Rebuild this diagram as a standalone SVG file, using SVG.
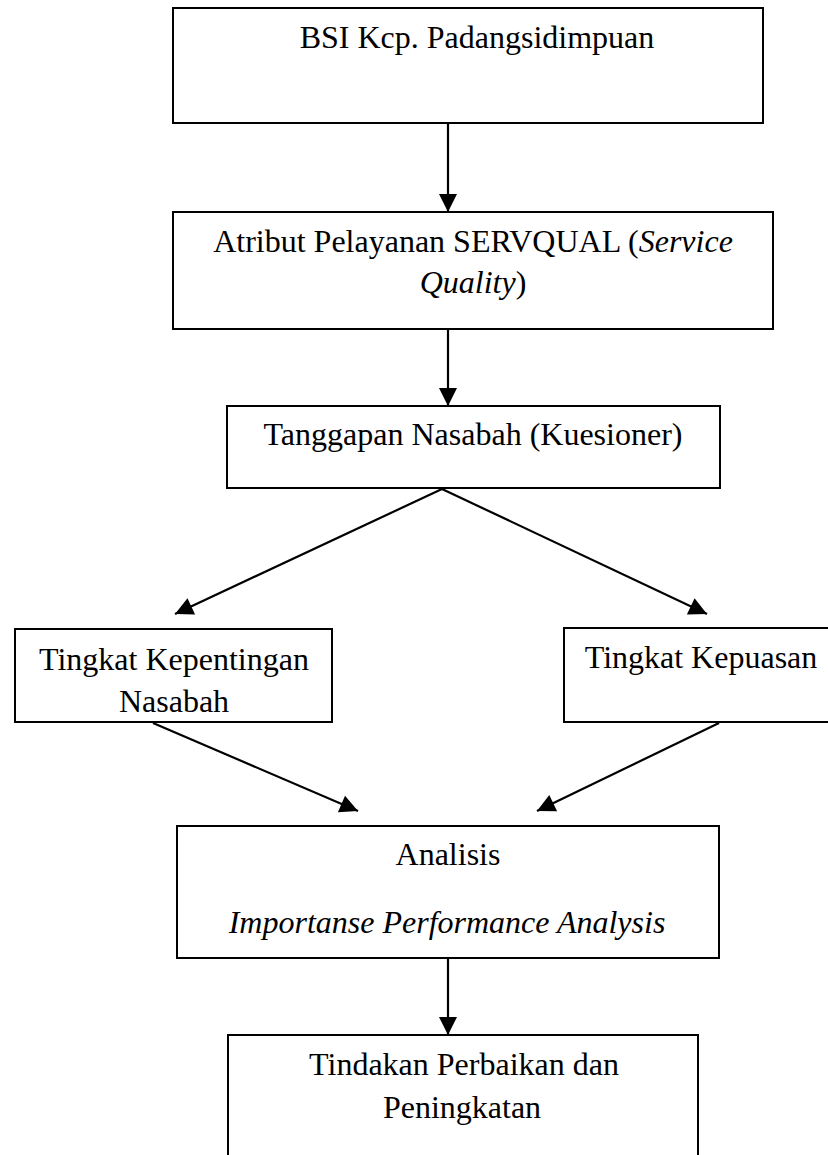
<svg xmlns="http://www.w3.org/2000/svg" width="828" height="1155" viewBox="0 0 828 1155">
<style>
.box{fill:#fff;stroke:#000;stroke-width:2}
.t{font-family:'Liberation Serif','Times New Roman',serif;font-size:32px;fill:#000;text-anchor:middle}
.i{font-style:italic}
.c{fill:none;stroke:#000;stroke-width:2.2;marker-end:url(#ah)}
</style>
<defs>
<marker id="ah" markerUnits="userSpaceOnUse" markerWidth="22" markerHeight="22" viewBox="0 0 22 22" refX="19" refY="11" orient="auto">
<path d="M1,2 L19,11 L1,20 Z" fill="#000"/>
</marker>
</defs>
<rect width="828" height="1155" fill="#fff"/>
<g id="n1"><rect class="box" x="173" y="8" width="590" height="115"/>
<text class="t" x="477" y="48">BSI Kcp. Padangsidimpuan</text></g>
<g id="n2"><rect class="box" x="173" y="212" width="600" height="117"/>
<text class="t" x="473" y="252">Atribut Pelayanan SERVQUAL (<tspan class="i">Service</tspan></text>
<text class="t" x="473" y="293"><tspan class="i">Quality</tspan>)</text></g>
<g id="n3"><rect class="box" x="227" y="406" width="493" height="82"/>
<text class="t" x="473" y="445">Tanggapan Nasabah (Kuesioner)</text></g>
<g id="n4"><rect class="box" x="15" y="629" width="317" height="93"/>
<text class="t" x="174" y="670">Tingkat Kepentingan</text>
<text class="t" x="174" y="712">Nasabah</text></g>
<g id="n5"><rect class="box" x="564" y="628" width="280" height="94"/>
<text class="t" x="701" y="668">Tingkat Kepuasan</text></g>
<g id="n6"><rect class="box" x="177" y="826" width="542" height="132"/>
<text class="t" x="448" y="865">Analisis</text>
<text class="t i" x="447" y="933">Importanse Performance Analysis</text></g>
<g id="n7"><rect class="box" x="228" y="1035" width="470" height="140"/>
<text class="t" x="464" y="1075">Tindakan Perbaikan dan</text>
<text class="t" x="462" y="1118">Peningkatan</text></g>
<g id="connectors">
<line class="c" x1="448" y1="123" x2="448" y2="212"/>
<line class="c" x1="448" y1="329" x2="448" y2="406"/>
<line class="c" x1="442" y1="489" x2="175" y2="614"/>
<line class="c" x1="442" y1="489" x2="707" y2="614"/>
<line class="c" x1="153" y1="723" x2="358" y2="811"/>
<line class="c" x1="719" y1="723" x2="537" y2="811"/>
<line class="c" x1="448" y1="958" x2="448" y2="1035"/>
</g>
</svg>
